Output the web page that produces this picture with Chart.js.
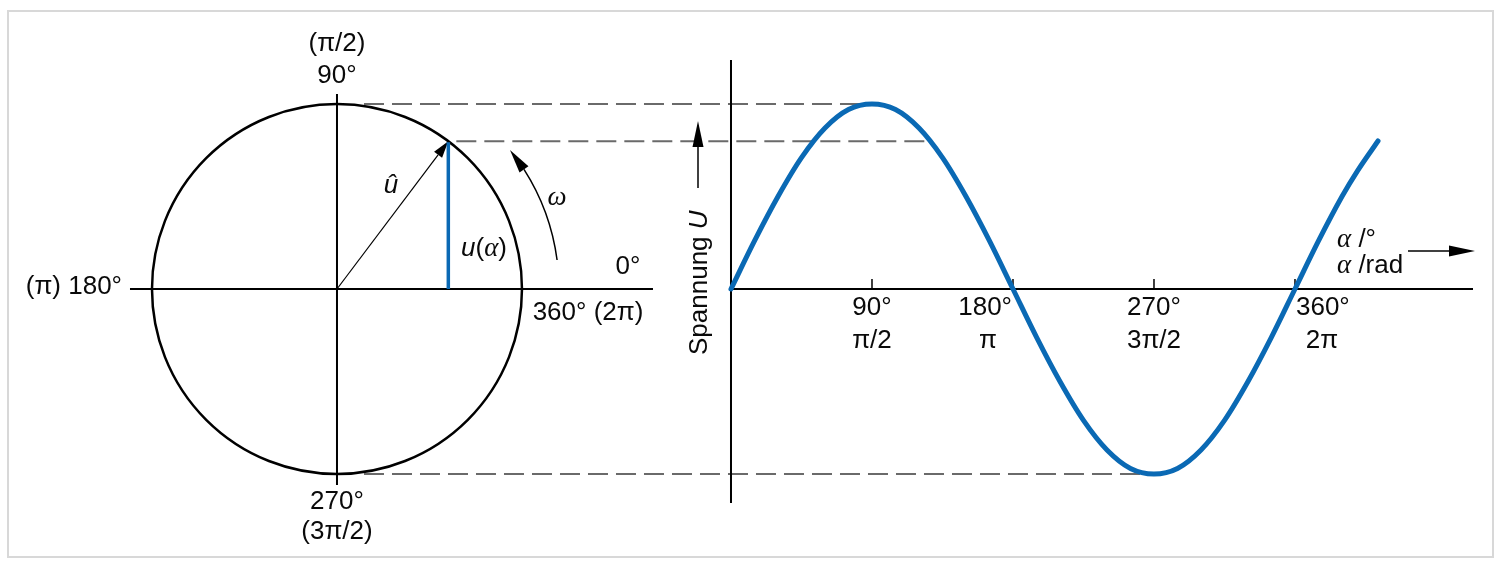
<!DOCTYPE html>
<html><head><meta charset="utf-8">
<script src="https://cdn.jsdelivr.net/npm/chart.js@4/dist/chart.umd.min.js"></script>
<style>html,body{margin:0;padding:0;background:#fff;overflow:hidden}#wrap{width:1501px;height:563px;position:relative}</style>
</head><body><div id="wrap"><canvas id="c"></canvas></div>
<script>
// ---- data ----
const angleDeg = [0,15,30,45,60,75,90,105,120,135,150,165,180,195,210,225,240,255,270,285,300,315,330,345,360,375,390,400,413];
const voltage  = [0,0.26,0.50,0.71,0.87,0.97,1.00,0.97,0.87,0.71,0.50,0.26,0,-0.26,-0.50,-0.71,-0.87,-0.97,-1.00,-0.97,-0.87,-0.71,-0.50,-0.26,0,0.26,0.50,0.64,0.80];
const tickDeg = [90,180,270,360];
const tickDegLabels = ['90°','180°','270°','360°'];
const tickRadLabels = ['π/2','π','3π/2','2π'];
const tickAlign = ['center','right','center','left'];
const phasorAngle = 53;          // degrees, angle of the drawn phasor
const circleCenterDeg = -251.5;  // x position of circle centre on the degree scale

const BLUE = '#0a69b4';
const SANS = '"Liberation Sans", Arial, sans-serif';
const SERIF = '"Liberation Serif", "Times New Roman", serif';
const FS = 26;

function arrowHead(ctx, tx, ty, dx, dy, len, w){
  const n = Math.hypot(dx,dy); dx/=n; dy/=n;
  const bx = tx - dx*len, by = ty - dy*len;
  ctx.beginPath();
  ctx.moveTo(tx,ty);
  ctx.lineTo(bx - dy*w/2, by + dx*w/2);
  ctx.lineTo(bx + dy*w/2, by - dx*w/2);
  ctx.closePath(); ctx.fill();
  return [bx,by];
}
function rich(ctx, parts, x, y, align){
  let tot = 0;
  parts.forEach(p=>{ctx.font=p.f; p.w=ctx.measureText(p.t).width; tot+=p.w;});
  let sx = align==='center'? x-tot/2 : align==='right'? x-tot : x;
  ctx.textAlign='left'; ctx.textBaseline='middle';
  parts.forEach(p=>{ctx.font=p.f; ctx.fillText(p.t, sx, y); sx+=p.w;});
}
const R_ = t=>({t, f: FS+'px '+SANS});
const I_ = t=>({t, f: 'italic '+FS+'px '+SANS});
const G_ = t=>({t, f: 'italic '+(FS+1)+'px '+SERIF});

const decor = {
  id:'decor',
  beforeDatasetsDraw(chart){
    const ctx = chart.ctx, sx = chart.scales.x, sy = chart.scales.y;
    const X = v=>sx.getPixelForValue(v), Y = v=>sy.getPixelForValue(v);
    const ox = X(0), oy = Y(0), cx = X(circleCenterDeg), R = oy - Y(1);
    const a = phasorAngle*Math.PI/180;
    const tipX = cx + R*Math.cos(a), tipY = oy - R*Math.sin(a);
    ctx.save();
    // frame
    ctx.strokeStyle='#d8d8d8'; ctx.lineWidth=2;
    ctx.strokeRect(8,11,1485,546);
    // dashed projection lines
    ctx.strokeStyle='#6a6a6a'; ctx.lineWidth=2; ctx.setLineDash([20,8]);
    ctx.beginPath();
    ctx.moveTo(cx+27, Y(1)); ctx.lineTo(X(90), Y(1));
    ctx.moveTo(tipX+8, tipY); ctx.lineTo(X(180-phasorAngle), tipY);
    ctx.moveTo(cx+27, Y(-1)); ctx.lineTo(X(270), Y(-1));
    ctx.stroke();
    ctx.setLineDash([]);
    // axes
    ctx.strokeStyle='#000'; ctx.lineWidth=2;
    ctx.beginPath();
    ctx.moveTo(cx, oy-R-10); ctx.lineTo(cx, oy+R+11);
    ctx.moveTo(cx-R-22, oy); ctx.lineTo(cx+R+131, oy);
    ctx.moveTo(ox, 60); ctx.lineTo(ox, 503);
    ctx.moveTo(ox, oy); ctx.lineTo(1473, oy);
    ctx.stroke();
    ctx.lineWidth=1.5;
    ctx.beginPath();
    tickDeg.forEach(d=>{ctx.moveTo(X(d), oy-10); ctx.lineTo(X(d), oy);});
    ctx.stroke();
    // circle
    ctx.lineWidth=2.5;
    ctx.beginPath(); ctx.arc(cx, oy, R, 0, Math.PI*2); ctx.stroke();
    // radius vector
    ctx.fillStyle='#000';
    const [bx,by] = arrowHead(ctx, tipX, tipY, tipX-cx, tipY-oy, 17, 10);
    ctx.lineWidth=1.2;
    ctx.beginPath(); ctx.moveTo(cx,oy); ctx.lineTo(bx,by); ctx.stroke();
    // projection u(alpha)
    ctx.strokeStyle=BLUE; ctx.lineWidth=3.5;
    ctx.beginPath(); ctx.moveTo(tipX, tipY+1); ctx.lineTo(tipX, oy); ctx.stroke();
    // omega arc
    const rw = R+37, t0 = 7.5*Math.PI/180, t1 = 38.8*Math.PI/180, hl = 24;
    ctx.strokeStyle='#000'; ctx.lineWidth=1.5;
    ctx.beginPath(); ctx.arc(cx, oy, rw, -t0, -(t1 - hl/rw), true); ctx.stroke();
    const wtx = cx + rw*Math.cos(t1), wty = oy - rw*Math.sin(t1);
    arrowHead(ctx, wtx, wty, -Math.sin(t1 - hl/(2*rw)), -Math.cos(t1 - hl/(2*rw)), hl, 11);
    // axis arrows
    ctx.lineWidth=1.5;
    ctx.beginPath(); ctx.moveTo(1408, 251); ctx.lineTo(1450, 251); ctx.stroke();
    arrowHead(ctx, 1475, 251, 1, 0, 26, 11);
    ctx.beginPath(); ctx.moveTo(698, 188); ctx.lineTo(698, 145); ctx.stroke();
    arrowHead(ctx, 698, 121, 0, -1, 26, 11);
    // texts
    ctx.fillStyle='#0a0a0a';
    rich(ctx,[R_('(π/2)')], cx, 44, 'center');
    rich(ctx,[R_('90°')], cx, 76, 'center');
    rich(ctx,[R_('(π) 180°')], 122, 287, 'right');
    rich(ctx,[R_('0°')], 628, 267, 'center');
    rich(ctx,[R_('360° (2π)')], 588, 313, 'center');
    rich(ctx,[R_('270°')], cx, 502, 'center');
    rich(ctx,[R_('(3π/2)')], cx, 532, 'center');
    rich(ctx,[I_('û')], 391, 186, 'center');
    rich(ctx,[I_('u'), R_('('), G_('α'), R_(')')], 484, 249, 'center');
    rich(ctx,[G_('ω')], 557, 198, 'center');
    rich(ctx,[G_('α'), R_(' /°')], 1337, 240, 'left');
    rich(ctx,[G_('α'), R_(' /rad')], 1337, 266, 'left');
    tickDeg.forEach((d,i)=>{
      const px = X(d), al = tickAlign[i];
      rich(ctx,[R_(tickDegLabels[i])], px + (al==='left'?1:al==='right'?-1:0), 308, al);
      let px2 = px; if(al==='right') px2 = px-25; if(al==='left') px2 = px+27;
      rich(ctx,[R_(tickRadLabels[i])], px2, 341, 'center');
    });
    ctx.save();
    ctx.translate(707, 355); ctx.rotate(-Math.PI/2);
    ctx.textBaseline='alphabetic'; ctx.textAlign='left';
    ctx.font = FS+'px '+SANS; ctx.fillText('Spannung ', 0, 0);
    const w = ctx.measureText('Spannung ').width;
    ctx.font = 'italic '+FS+'px '+SANS; ctx.fillText('U', w, 0);
    ctx.restore();
    ctx.restore();
  }
};

new Chart(document.getElementById('c'), {
  type:'scatter',
  data:{datasets:[{
    data: angleDeg.map((d,i)=>({x:d, y:voltage[i]})),
    showLine:true, borderColor:BLUE, borderWidth:5, pointRadius:0,
    cubicInterpolationMode:'monotone', fill:false, borderCapStyle:'round'
  }]},
  options:{
    responsive:true, maintainAspectRatio:false, animation:false,
    layout:{padding:0},
    plugins:{legend:{display:false}, tooltip:{enabled:false}},
    scales:{
      x:{type:'linear', min:-466.6, max:491.5, display:false},
      y:{type:'linear', min:-1.4811, max:1.5622, display:false}
    }
  },
  plugins:[decor]
});
</script></body></html>
